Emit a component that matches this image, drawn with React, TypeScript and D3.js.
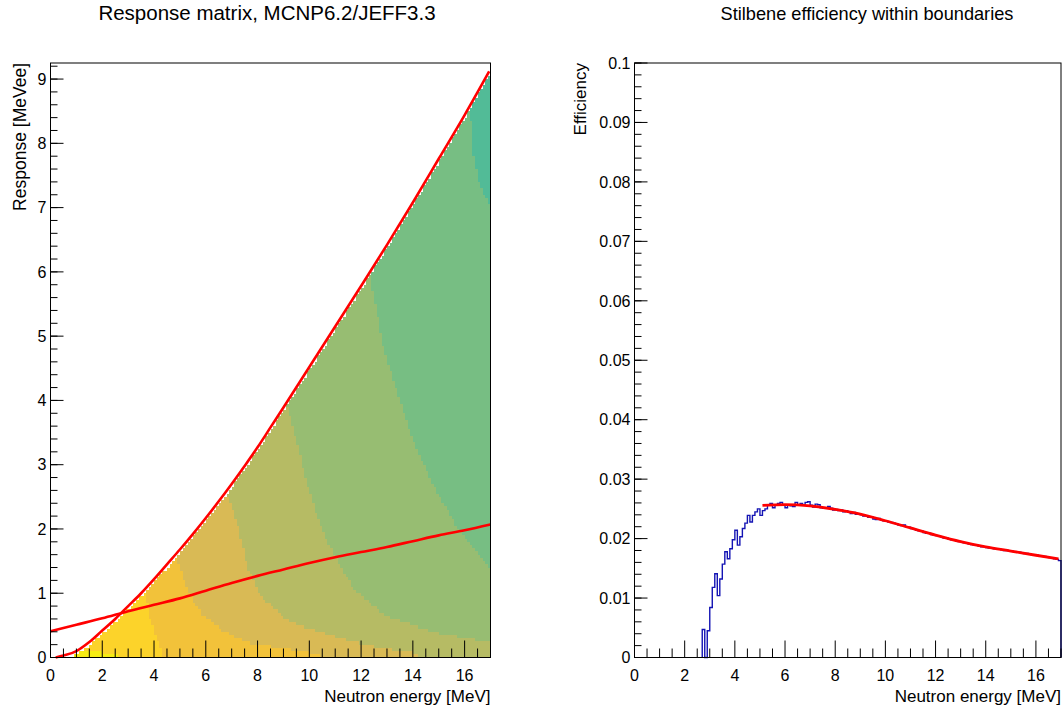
import React from "react";
import * as d3 from "d3";

const W = 1063;
const H = 713;
const FONT = "'Liberation Sans', Arial, Helvetica, sans-serif";

// ---- left pad: response matrix ----
// maximum response (fitted edge), MeV -> MeVee
const edgeE = [0.2, 0.5, 1, 1.5, 2, 2.5, 3, 3.5, 4, 4.5, 5, 5.5, 6, 6.5, 7, 7.5, 8, 8.5, 9, 10, 11, 12, 13, 14, 15, 16, 16.95];
const edgeR = [0, 0.03, 0.1, 0.24, 0.42, 0.6, 0.8, 1.0, 1.22, 1.45, 1.68, 1.92, 2.17, 2.43, 2.7, 2.98, 3.27, 3.58, 3.89, 4.52, 5.15, 5.78, 6.42, 7.08, 7.76, 8.44, 9.12];

// lower boundary line
const lowE = [0, 1, 2, 3, 4, 5, 6, 7, 8, 9, 10, 11, 12, 13, 14, 15, 16, 17];
const lowR = [0.41, 0.51, 0.61, 0.72, 0.82, 0.92, 1.04, 1.16, 1.27, 1.37, 1.47, 1.56, 1.64, 1.72, 1.81, 1.9, 1.98, 2.07];

// colour levels of the matrix (high counts -> low counts)
const bandColors = ["#f6ec14", "#fcd32a", "#f2c23a", "#d9ba55", "#b6bb64", "#97bd72", "#77be83", "#52bb97"];
const edgeCellColors = ["#3fb0b8", "#3b5cb8"];

// contour boundaries between successive levels, [E, R] points
const bound1 = [[1.0, 0.12], [1.6, 0.11], [2.1, 0.07], [2.6, 0.02], [2.7, -1]];
const bound2 = [[3.62, 1.12], [3.86, 0.6], [4.1, 0.28], [4.3, 0.08], [4.45, -1]];
const bound3 = [[4.83, 1.62], [5.28, 1.06], [5.8, 0.69], [6.57, 0.44], [7.6, 0.23], [9.4, 0.12], [10.4, 0.04], [10.6, -1]];
const bound4 = [[6.76, 2.6], [7.21, 2.1], [7.6, 1.42], [8.11, 0.95], [9.15, 0.59], [10, 0.45], [11, 0.32], [12.4, 0.18], [14.2, 0.06], [14.4, -1]];
const bound5 = [[9.1, 3.98], [9.5, 3.4], [9.85, 2.8], [10.3, 2.2], [10.9, 1.63], [11.72, 1.06], [13, 0.64], [14.94, 0.38], [17, 0.23]];
const bound6 = [[12.3, 6.05], [12.5, 5.6], [12.88, 4.79], [13.4, 4.12], [14.04, 3.34], [14.94, 2.56], [15.7, 2.04], [16.49, 1.63], [17, 1.37]];
const bound7 = [[16.2, 8.6], [16.36, 7.74], [16.6, 7.33], [16.94, 7.07], [17, 7.0]];
const bounds = [bound1, bound2, bound3, bound4, bound5, bound6, bound7];

// columns whose top cell is a low-count (teal / blue) cell
const tealEdgeBins = [3.3, 4.6, 5.9, 6.6, 7.8, 8.5, 9.6, 10.4, 11.1, 11.7, 12.9, 13.6, 14.2, 14.8, 15.4, 15.9, 16.4, 16.8];
const blueEdgeBins = [8.9, 10.9, 12.3, 13.2];

const respTicks = [0, 1, 2, 3, 4, 5, 6, 7, 8, 9];
const energyTicks = [0, 2, 4, 6, 8, 10, 12, 14, 16];

// ---- right pad: efficiency ----
// 0.1 MeV bins from 0 to 17 MeV
const effVals = [
  0, 0, 0, 0, 0, 0, 0, 0, 0, 0,
  0, 0, 0, 0, 0, 0, 0, 0, 0, 0,
  0, 0, 0, 0, 0, 0, 0, 0.0047, 0, 0.0045,
  0.0084, 0.0118, 0.0141, 0.0104, 0.0132, 0.0157, 0.0178, 0.0166, 0.0183, 0.0198,
  0.0214, 0.0189, 0.0203, 0.0217, 0.0226, 0.0239, 0.0228, 0.0239, 0.0245, 0.025,
  0.0239, 0.0247, 0.025, 0.0256, 0.0259, 0.0252, 0.0256, 0.0259, 0.0261, 0.0256,
  0.0252, 0.0257, 0.0255, 0.0254, 0.0261, 0.0256, 0.0259, 0.0256, 0.0261, 0.0262,
  0.0256, 0.0253, 0.0258, 0.0257, 0.0252, 0.0251, 0.0252, 0.0254, 0.0251, 0.0248,
  0.0249, 0.0247, 0.0248, 0.0245, 0.0247, 0.0245, 0.0242, 0.0244, 0.0241, 0.0242,
  0.024, 0.0238, 0.0238, 0.0236, 0.0237, 0.0233, 0.0232, 0.0234, 0.0231, 0.023,
  0.0229, 0.0228, 0.0227, 0.0226, 0.0225, 0.0223, 0.0222, 0.0223, 0.022, 0.0219,
  0.0217, 0.0216, 0.0214, 0.0213, 0.0213, 0.021, 0.0209, 0.0209, 0.0207, 0.0206,
  0.0205, 0.0204, 0.0203, 0.0201, 0.0201, 0.0199, 0.0198, 0.0197, 0.0196, 0.0195,
  0.0194, 0.0193, 0.0193, 0.0191, 0.019, 0.0189, 0.0189, 0.0187, 0.0186, 0.0186,
  0.0185, 0.0184, 0.0184, 0.0183, 0.0182, 0.0182, 0.0181, 0.018, 0.018, 0.0179,
  0.0179, 0.0178, 0.0177, 0.0177, 0.0176, 0.0175, 0.0175, 0.0174, 0.0173, 0.0173,
  0.0172, 0.0171, 0.0171, 0.017, 0.0169, 0.0168, 0.0167, 0.0166, 0.0165, 0.0163,
];
const binW = 0.1;

const fitE = [5.1, 6, 7, 8, 9, 10, 11, 12, 13, 14, 15, 16, 16.9];
const fitV = [0.0256, 0.0257, 0.0255, 0.0249, 0.0241, 0.023, 0.0218, 0.0206, 0.0195, 0.0186, 0.0179, 0.0172, 0.0166];

const effTicks = [0, 0.01, 0.02, 0.03, 0.04, 0.05, 0.06, 0.07, 0.08, 0.09, 0.1];
const effTickLabels = ["0", "0.01", "0.02", "0.03", "0.04", "0.05", "0.06", "0.07", "0.08", "0.09", "0.1"];

const left = { x0: 50.5, x1: 490.5, y0: 63, y1: 657.5 };
const right = { x0: 634.5, x1: 1061, y0: 63, y1: 657.5 };

function XAxis({ x, y, ticks }) {
  const minors = d3.range(0, 17.01, 0.5).filter((v) => v % 2 !== 0);
  return (
    <g>
      {minors.map((v) => (
        <line key={"m" + v} x1={x(v)} x2={x(v)} y1={y} y2={y - 9} stroke="#000" />
      ))}
      {ticks.map((v) => (
        <g key={v}>
          <line x1={x(v)} x2={x(v)} y1={y} y2={y - 17} stroke="#000" />
          <text x={x(v)} y={y + 23} textAnchor="middle" fontSize={16}>{v}</text>
        </g>
      ))}
    </g>
  );
}

function YAxis({ x, y, ticks, labels, minorStep, max }) {
  const minors = d3.range(0, max + 1e-9, minorStep);
  return (
    <g>
      {minors.map((v, i) => (
        <line key={"m" + i} x1={x} x2={x + 7} y1={y(v)} y2={y(v)} stroke="#000" />
      ))}
      {ticks.map((v, i) => (
        <g key={i}>
          <line x1={x} x2={x + 13} y1={y(v)} y2={y(v)} stroke="#000" />
          <text x={x - 4} y={y(v)} dy="0.36em" textAnchor="end" fontSize={16}>{labels[i]}</text>
        </g>
      ))}
    </g>
  );
}

function ResponsePad() {
  const x = d3.scaleLinear().domain([0, 17]).range([left.x0, left.x1]);
  const y = d3.scaleLinear().domain([0, 9.25]).range([left.y1, left.y0]);
  const edge = d3.scaleLinear().domain(edgeE).range(edgeR).clamp(true);
  const bs = bounds.map((b) => ({
    e0: b[0][0],
    s: d3.scaleLinear().domain(b.map((p) => p[0])).range(b.map((p) => p[1])).clamp(true),
  }));
  const rowH = 0.05;
  const level = (e, r) => bs.reduce((n, b) => n + (e >= b.e0 && r >= b.s(e) ? 1 : 0), 0);
  const near = (list, e) => list.some((v) => Math.abs(v - e) < 0.049);

  const rects = [];
  for (let i = 0; i < 170; i++) {
    const e0 = i * binW;
    const ec = e0 + binW / 2;
    if (ec < edgeE[0]) continue;
    const top = edge(ec) - 0.03;
    const nRows = Math.floor(top / rowH);
    let start = 0;
    let cur = -1;
    for (let j = 0; j <= nRows; j++) {
      const lv = j < nRows ? level(ec, (j + 0.5) * rowH) : -2;
      if (lv !== cur) {
        if (cur >= 0) {
          rects.push({ e0, r0: start * rowH, r1: j * rowH, c: bandColors[cur] });
        }
        cur = lv;
        start = j;
      }
    }
    if (nRows > 2) {
      const edgeColor = near(blueEdgeBins, ec) ? edgeCellColors[1] : near(tealEdgeBins, ec) ? edgeCellColors[0] : null;
      if (edgeColor) rects.push({ e0, r0: (nRows - 1) * rowH, r1: nRows * rowH, c: edgeColor });
    }
  }

  const line = d3.line().x((d) => x(d[0])).y((d) => y(d[1])).curve(d3.curveMonotoneX);
  const edgePts = edgeE.map((e, i) => [e, edgeR[i]]);
  const lowPts = lowE.map((e, i) => [e, lowR[i]]);

  return (
    <g>
      <g shapeRendering="crispEdges">
        {rects.map((r, k) => (
          <rect key={k} x={x(r.e0)} width={x(r.e0 + binW) - x(r.e0)} y={y(r.r1)} height={y(r.r0) - y(r.r1)} fill={r.c} />
        ))}
      </g>
      <path d={line(edgePts)} fill="none" stroke="#ff0000" strokeWidth={2.6} />
      <path d={line(lowPts)} fill="none" stroke="#ff0000" strokeWidth={2.6} />
      <XAxis x={x} y={left.y1} ticks={energyTicks} />
      <YAxis x={left.x0} y={y} ticks={respTicks} labels={respTicks.map(String)} minorStep={0.2} max={9.25} />
      <rect x={left.x0} y={left.y0} width={left.x1 - left.x0} height={left.y1 - left.y0} fill="none" stroke="#000" />
      <text x={267} y={20} textAnchor="middle" fontSize={20.5}>Response matrix, MCNP6.2/JEFF3.3</text>
      <text x={left.x1} y={702} textAnchor="end" fontSize={17}>Neutron energy [MeV]</text>
      <text transform={`translate(26,${left.y0}) rotate(-90)`} textAnchor="end" fontSize={17.5}>Response [MeVee]</text>
    </g>
  );
}

function EfficiencyPad() {
  const x = d3.scaleLinear().domain([0, 17]).range([right.x0, right.x1]);
  const y = d3.scaleLinear().domain([0, 0.1]).range([right.y1, right.y0]);

  const first = effVals.findIndex((v) => v > 0);
  const pts = [[first * binW, 0]];
  effVals.forEach((v, i) => {
    if (i < first) return;
    pts.push([i * binW, v]);
    pts.push([(i + 1) * binW, v]);
  });
  pts.push([17, 0]);
  const step = d3.line().x((d) => x(d[0])).y((d) => y(d[1]));
  const fit = d3.line().x((d) => x(d[0])).y((d) => y(d[1])).curve(d3.curveMonotoneX);
  const fitPts = fitE.map((e, i) => [e, fitV[i]]);

  return (
    <g>
      <path d={step(pts)} fill="none" stroke="#1414b4" strokeWidth={1.4} />
      <path d={fit(fitPts)} fill="none" stroke="#ff0000" strokeWidth={2.8} />
      <XAxis x={x} y={right.y1} ticks={energyTicks} />
      <YAxis x={right.x0} y={y} ticks={effTicks} labels={effTickLabels} minorStep={0.002} max={0.1} />
      <rect x={right.x0} y={right.y0} width={right.x1 - right.x0} height={right.y1 - right.y0} fill="none" stroke="#000" />
      <text x={867} y={20} textAnchor="middle" fontSize={18.2}>Stilbene efficiency within boundaries</text>
      <text x={right.x1} y={702} textAnchor="end" fontSize={17}>Neutron energy [MeV]</text>
      <text transform={`translate(586,${right.y0}) rotate(-90)`} textAnchor="end" fontSize={17}>Efficiency</text>
    </g>
  );
}

export default function App() {
  return (
    <svg
      width={W}
      height={H}
      style={{ position: "absolute", left: 0, top: 0, background: "#fff" }}
      fontFamily={FONT}
      fill="#000"
    >
      <rect width={W} height={H} fill="#fff" />
      <ResponsePad />
      <EfficiencyPad />
    </svg>
  );
}
